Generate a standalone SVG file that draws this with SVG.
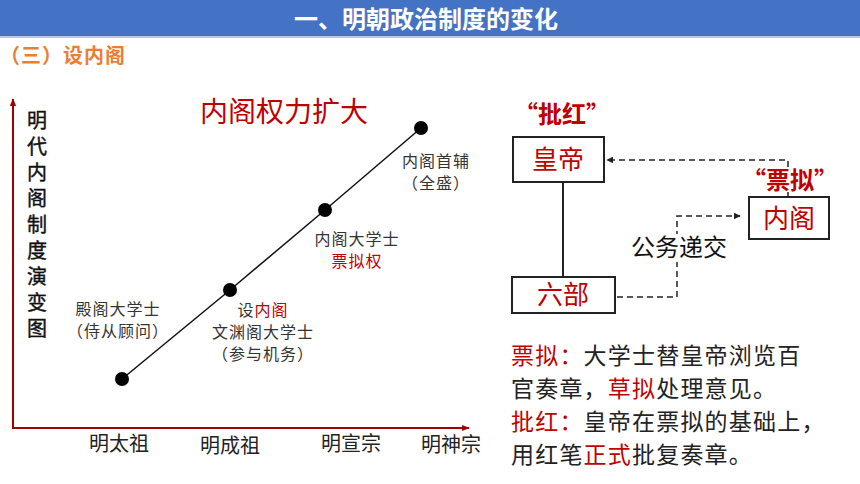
<svg xmlns="http://www.w3.org/2000/svg" width="860" height="484" viewBox="0 0 860 484">
<defs>
<style>
.cjk{font-family:"Noto Sans CJK SC","Noto Sans",sans-serif}
.red{fill:#C00000}
.blk{fill:#222}
.lbl{font-size:16px;fill:#333;text-anchor:middle}
.era{font-size:20px;fill:#222;text-anchor:middle}
.box{fill:#fff;stroke:#222;stroke-width:2}
.boxt{font-size:26px;fill:#C00000;text-anchor:middle}
.dash{fill:none;stroke:#222;stroke-width:1.5;stroke-dasharray:6,4}
.para{font-size:23px;letter-spacing:1.2px}
</style>
<marker id="ah" viewBox="0 0 10 10" refX="9" refY="5" markerWidth="7" markerHeight="7" orient="auto" markerUnits="userSpaceOnUse">
<path d="M0,0 L10,5 L0,10 z" fill="#222"/>
</marker>
<marker id="rah" viewBox="0 0 10 10" refX="9" refY="5" markerWidth="8" markerHeight="8" orient="auto" markerUnits="userSpaceOnUse">
<path d="M0,1 L10,5 L0,9 z" fill="#A00000"/>
</marker>
</defs>
<rect width="860" height="484" fill="#fff"/>
<g id="header">
<rect x="0" y="0" width="860" height="36" fill="#4472C4"/>
<rect x="0" y="36" width="860" height="2" fill="#B4C7E7"/>
<text x="426" y="28" class="cjk" font-size="24" font-weight="bold" fill="#fff" text-anchor="middle">一、明朝政治制度的变化</text>
<text x="0" y="63" class="cjk" font-size="20" font-weight="bold" fill="#ED7D31" letter-spacing="1">（三）设内阁</text>
</g>
<g id="axes">
<line x1="13" y1="428" x2="13" y2="99" stroke="#A00000" stroke-width="2" marker-end="url(#rah)"/>
<line x1="12" y1="428" x2="469" y2="428" stroke="#A00000" stroke-width="2" marker-end="url(#rah)"/>
<text x="37" y="110" class="cjk" font-size="20" fill="#111" stroke="#111" stroke-width="0.4" writing-mode="vertical-rl" letter-spacing="6">明代内阁制度演变图</text>
<text x="119" y="451" class="cjk era">明太祖</text>
<text x="230" y="453" class="cjk era">明成祖</text>
<text x="351" y="451" class="cjk era">明宣宗</text>
<text x="451" y="452" class="cjk era">明神宗</text>
<text x="284" y="122" class="cjk" font-size="28" fill="#C00000" text-anchor="middle">内阁权力扩大</text>
</g>
<g id="trend">
<polyline points="122,379 230,290 325,210 421,128" fill="none" stroke="#111" stroke-width="1.5"/>
<circle cx="122" cy="379" r="7" fill="#000"/>
<circle cx="230" cy="290" r="7" fill="#000"/>
<circle cx="325" cy="210" r="7" fill="#000"/>
<circle cx="421" cy="128" r="7" fill="#000"/>
</g>
<g id="stage1">
<text x="118" y="315" class="cjk lbl" letter-spacing="1">殿阁大学士</text>
<text x="118" y="337" class="cjk lbl" letter-spacing="1">（侍从顾问）</text>
</g>
<g id="stage2">
<text x="263" y="316" class="cjk lbl" letter-spacing="1">设<tspan class="red">内阁</tspan></text>
<text x="263" y="338" class="cjk lbl" letter-spacing="1">文渊阁大学士</text>
<text x="263" y="360" class="cjk lbl" letter-spacing="1">（参与机务）</text>
</g>
<g id="stage3">
<text x="357" y="245" class="cjk lbl" letter-spacing="1">内阁大学士</text>
<text x="357" y="267" class="cjk lbl" letter-spacing="1" style="fill:#C00000">票拟权</text>
</g>
<g id="stage4">
<text x="436" y="167" class="cjk lbl" letter-spacing="1">内阁首辅</text>
<text x="436" y="189" class="cjk lbl" letter-spacing="1">（全盛）</text>
</g>
<g id="connectors">
<polyline class="dash" points="788,197 788,160 607,160" marker-end="url(#ah)"/>
<polyline class="dash" points="617,297 677,297 677,216 740,216" marker-end="url(#ah)"/>
<line x1="563" y1="182" x2="563" y2="277" stroke="#222" stroke-width="2"/>
</g>
<g id="pihong">
<text x="562" y="123" class="cjk" font-size="24" font-weight="bold" fill="#C00000" text-anchor="middle">“批红”</text>
</g>
<g id="huangdi">
<rect x="513" y="137" width="91" height="45" class="box"/>
<text x="558" y="169" class="cjk boxt">皇帝</text>
</g>
<g id="liubu">
<rect x="512" y="277" width="103" height="36" class="box"/>
<text x="563" y="304" class="cjk boxt">六部</text>
</g>
<g id="neige">
<rect x="749" y="197" width="80" height="42" class="box"/>
<text x="789" y="228" class="cjk boxt">内阁</text>
</g>
<g id="piaoni">
<rect x="764" y="168" width="48" height="24" fill="#fff"/>
<text x="790" y="189" class="cjk" font-size="24" font-weight="bold" fill="#C00000" text-anchor="middle">“票拟”</text>
</g>
<g id="gongwu">
<rect x="671" y="234" width="13" height="28" fill="#fff"/>
<text x="679" y="256" class="cjk" font-size="24" fill="#111" text-anchor="middle">公务递交</text>
</g>
<g id="notes">
<text x="511" y="364" class="cjk para blk"><tspan class="red">票拟：</tspan>大学士替皇帝浏览百</text>
<text x="511" y="397" class="cjk para blk">官奏章，<tspan class="red">草拟</tspan>处理意见。</text>
<text x="511" y="430" class="cjk para blk"><tspan class="red">批红：</tspan>皇帝在票拟的基础上，</text>
<text x="511" y="463" class="cjk para blk">用红笔<tspan class="red">正式</tspan>批复奏章。</text>
</g>
</svg>
